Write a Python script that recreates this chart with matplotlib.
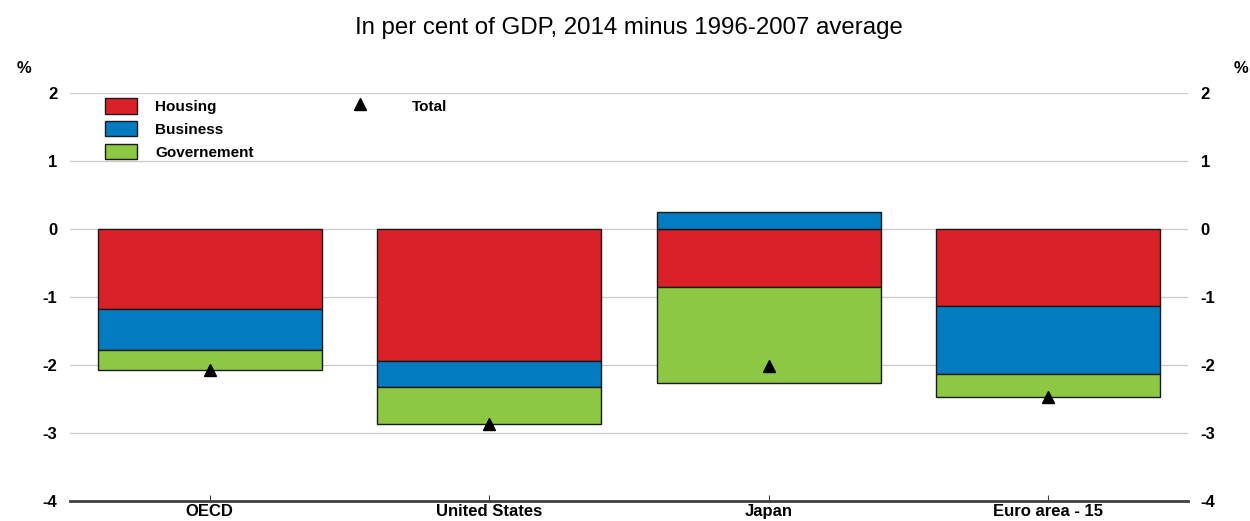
import matplotlib
matplotlib.use("Agg")
import matplotlib.pyplot as plt
from matplotlib.patches import Patch
from matplotlib.lines import Line2D
import numpy as np

plt.rcParams['font.family'] = ['Liberation Sans', 'DejaVu Sans']
plt.rcParams['axes.unicode_minus'] = False

categories = ["OECD", "United States", "Japan", "Euro area - 15"]
housing = [-1.18, -1.94, -0.85, -1.13]
business = [-0.60, -0.38, 0.25, -1.00]
government = [-0.29, -0.55, -1.41, -0.34]
total = [-2.07, -2.87, -2.01, -2.47]

col_housing = "#DA2128"
col_business = "#037BC1"
col_gov = "#8CC841"

fig = plt.figure(figsize=(12.5, 5.21), dpi=100)
ax = fig.add_axes([0.056, 0.0384, 0.8944, 0.7831])

x = np.arange(len(categories))
housing = np.array(housing)
business = np.array(business)
government = np.array(government)

# stack negatives downward, positives upward
neg_base = np.zeros(len(x))
pos_base = np.zeros(len(x))
for vals, col in [(housing, col_housing), (business, col_business), (government, col_gov)]:
    bottoms = np.where(vals < 0, neg_base, pos_base)
    ax.bar(x, vals, bottom=bottoms, width=0.8, color=col, edgecolor="#1a1a1a", linewidth=1, zorder=3)
    neg_base = neg_base + np.where(vals < 0, vals, 0)
    pos_base = pos_base + np.where(vals > 0, vals, 0)

ax.plot(x, total, linestyle="none", marker="^", color="black", markersize=9, zorder=4)

ax.set_xlim(-0.5, 3.5)
ax.set_ylim(-4, 2)
ax.set_yticks([-4, -3, -2, -1, 0, 1, 2])
ax.set_xticks(x)
ax.set_xticklabels(categories)
ax.grid(axis="y", color="#cccccc", linewidth=1, zorder=0)
ax.set_axisbelow(True)
for s in ["top", "left", "right"]:
    ax.spines[s].set_visible(False)
ax.spines["bottom"].set_color("#404040")
ax.spines["bottom"].set_linewidth(2)
ax.spines["bottom"].set_zorder(5)
ax.tick_params(axis="y", length=0, labelsize=12, pad=9, labelright=True)
ax.tick_params(axis="x", direction="in", length=4, color="#404040", labelsize=12, pad=2)
for lab in ax.get_yticklabels() + ax.get_xticklabels():
    lab.set_fontweight("bold")

fig.text(0.0136, 0.868, "%", fontsize=12, fontweight="bold", ha="left", va="center")
fig.text(0.9984, 0.868, "%", fontsize=12, fontweight="bold", ha="right", va="center")
fig.text(0.503, 0.946, "In per cent of GDP, 2014 minus 1996-2007 average", fontsize=17.3, ha="center", va="center")

handles = [Patch(facecolor=col_housing, edgecolor="#1a1a1a", label="Housing"),
           Patch(facecolor=col_business, edgecolor="#1a1a1a", label="Business"),
           Patch(facecolor=col_gov, edgecolor="#1a1a1a", label="Governement")]
leg1 = ax.legend(handles=handles, loc="upper left", bbox_to_anchor=(0.031, 0.988), frameon=False,
                 borderaxespad=0, borderpad=0, handlelength=2.1, handleheight=1.2,
                 handletextpad=1.2, labelspacing=0.45, prop={"size": 11, "weight": "bold"})
ax.add_artist(leg1)
tri = Line2D([], [], linestyle="none", marker="^", color="black", markersize=9, label="Total")
ax.legend(handles=[tri], loc="upper left", bbox_to_anchor=(0.2415, 0.988), frameon=False,
          borderaxespad=0, borderpad=0, handlelength=2.6, handleheight=1.2,
          handletextpad=2.1, prop={"size": 11, "weight": "bold"})

fig.savefig("out.png", dpi=100)
